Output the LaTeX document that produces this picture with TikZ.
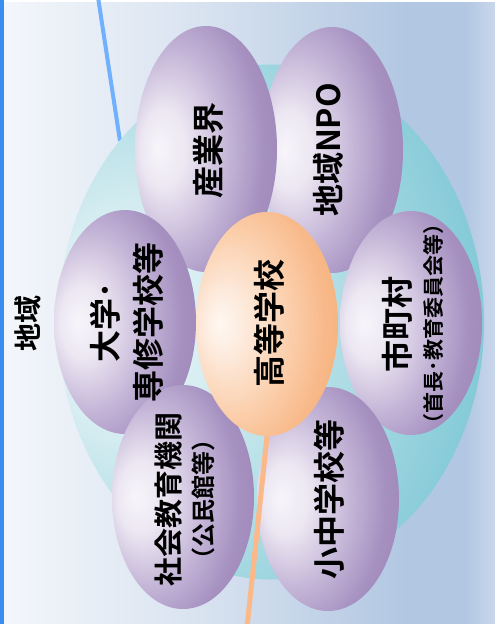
\documentclass[tikz,border=0pt]{standalone}
\usepackage{fontspec}
\usetikzlibrary{shapes.geometric}
\newfontfamily\jp{Noto Sans CJK JP}[BoldFont={Noto Sans CJK JP Bold}]
\definecolor{bgA}{HTML}{F4F7FB}
\definecolor{bgB}{HTML}{D9E3F0}
\definecolor{bgC}{HTML}{B2C7E2}
\definecolor{bgD}{HTML}{C9D7EC}
\definecolor{pA}{HTML}{F7F5FA}
\definecolor{pB}{HTML}{ECE7F2}
\definecolor{pC}{HTML}{C4B5D7}
\definecolor{pD}{HTML}{A590C0}
\definecolor{pE}{HTML}{9882B4}
\definecolor{oA}{HTML}{FEF8F2}
\definecolor{oB}{HTML}{FDE9DA}
\definecolor{oC}{HTML}{FBCFAC}
\definecolor{oD}{HTML}{F8B98A}
\definecolor{oE}{HTML}{F5A96E}
\definecolor{tA}{HTML}{E9F6F8}
\definecolor{tB}{HTML}{D8EEF2}
\definecolor{tC}{HTML}{A6D9E2}
\definecolor{tD}{HTML}{84CAD7}
\definecolor{tE}{HTML}{6DBFCE}
\definecolor{leftbar}{HTML}{3A8EF0}
\definecolor{blueline}{HTML}{70B0FF}
\definecolor{orangeline}{HTML}{FBB98A}
\pgfdeclarehorizontalshading{bgsh}{100bp}{color(0bp)=(bgA); color(25bp)=(bgA); color(45bp)=(bgB); color(66bp)=(bgC); color(72bp)=(bgC); color(75bp)=(bgD); color(100bp)=(bgD)}
\pgfdeclareradialshading{purpball}{\pgfpoint{-17bp}{0bp}}{color(0bp)=(pA); color(8bp)=(pB); color(20bp)=(pC); color(30bp)=(pD); color(42bp)=(pE); color(70bp)=(pE)}
\pgfdeclareradialshading{orangeball}{\pgfpoint{-17bp}{0bp}}{color(0bp)=(oA); color(8bp)=(oB); color(20bp)=(oC); color(30bp)=(oD); color(42bp)=(oE); color(70bp)=(oE)}
\pgfdeclareradialshading{tealball}{\pgfpoint{-20bp}{0bp}}{color(0bp)=(tA); color(10bp)=(tB); color(25bp)=(tC); color(35bp)=(tD); color(45bp)=(tE); color(70bp)=(tE)}
\tikzset{
  egg/.style={ellipse, inner sep=0pt, shade, shading=purpball, minimum width=142pt, minimum height=224pt},
  eggtall/.style={egg, minimum height=246pt},
  orangeegg/.style={egg, shading=orangeball},
  region/.style={ellipse, inner sep=0pt, shade, shading=tealball},
  lbl/.style={rotate=90, font=\jp\bfseries\fontsize{32}{43}\selectfont, align=center, inner sep=0pt},
}
\begin{document}
\begin{tikzpicture}[x=1pt,y=-1pt]
\useasboundingbox (0,0) rectangle (495,624);
\path[shading=bgsh] (0,0) rectangle (495,624);
\fill[white] (0,0) rectangle (495,2);
\fill[leftbar] (0,0) rectangle (4,624);
% blue connector
\coordinate (bluetop) at (98,-3);
\coordinate (blueend) at (120,141);
\draw[blueline, line width=4pt] (bluetop) -- (blueend);
% region
\node[region, minimum width=426pt, minimum height=515pt] (area) at (271,322) {};
\node[lbl, font=\jp\bfseries\fontsize{28}{30}\selectfont] (areat) at (28,323) {地域};
% eggs
\node[eggtall] (npo) at (332,150) {};
\node[eggtall] (sangyo) at (206,149) {};
\node[egg] (shicho) at (411,323) {};
\node[egg] (daigaku) at (125,322) {};
\node[egg] (shakai) at (183,497) {};
\node[egg] (shochu) at (328,499) {};
\node[orangeegg] (koko) at (267,324) {};
% connector
\coordinate (orangeend) at (247,628);
\draw[orangeline, line width=5pt] (koko.south) -- (orangeend);
% labels
\node[lbl] (t1) at (208,150) {産業界};
\node[lbl] (t2) at (328,150) {地域NPO};
\node[lbl] (t3) at (127,322) {大学･\\専修学校等};
\node[lbl] (t4) at (269,323) {高等学校};
\node[lbl, font=\jp\bfseries\fontsize{32}{32}\selectfont] (t5) at (413,324) {市町村\\{\fontsize{21}{21}\selectfont （首長･教育委員会等）}};
\node[lbl, font=\jp\bfseries\fontsize{29}{33}\selectfont] (t6) at (185,499) {社会教育機関\\{\fontsize{24}{24}\selectfont （公民館等）}};
\node[lbl] (t7) at (329,499) {小中学校等};
\end{tikzpicture}
\end{document}
